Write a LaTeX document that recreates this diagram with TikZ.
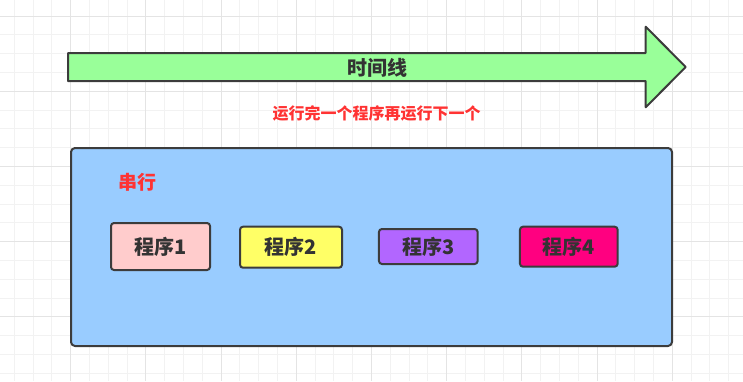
\documentclass[tikz,border=0pt]{standalone}
\usepackage{fontspec}
\setmainfont{Noto Sans CJK SC}
\usepackage{tikz}
\usepackage{xcolor}
\usetikzlibrary{positioning}
\definecolor{gridminor}{HTML}{F2F2F2}
\definecolor{gridmajor}{HTML}{E4E4E4}
\definecolor{edge}{HTML}{3C3C3C}
\definecolor{textdark}{HTML}{333333}
\definecolor{arrowfill}{HTML}{99FF99}
\definecolor{panelfill}{HTML}{99CCFF}
\definecolor{accentred}{HTML}{FF3333}
\definecolor{progA}{HTML}{FFCCCC}
\definecolor{progB}{HTML}{FFFF66}
\definecolor{progC}{HTML}{B266FF}
\definecolor{progD}{HTML}{FF0080}

\begin{document}
\begin{tikzpicture}[x=1pt, y=-1pt,
            outline/.style={draw=edge, line width=2pt, line join=round},
            prog/.style={outline, rounded corners=3pt, inner sep=0pt, text=textdark, font=\fontsize{20}{22}\selectfont\bfseries},
            lbl/.style={inner sep=0pt, font=\bfseries}]
            \useasboundingbox (0,0) rectangle (743,381);
            % grid
            \foreach \i in {0,...,39} \draw[gridminor, line width=0.8pt] ({14.1+18.8*\i},0) -- ({14.1+18.8*\i},381);
            \foreach \j in {0,...,19} \draw[gridminor, line width=0.8pt] (0,{16+18.8*\j}) -- (743,{16+18.8*\j});
            \foreach \i in {0,...,9} \draw[gridmajor, line width=0.8pt] ({70.5+75.2*\i},0) -- ({70.5+75.2*\i},381);
            \foreach \j in {0,...,4} \draw[gridmajor, line width=0.8pt] (0,{16+75.2*\j}) -- (743,{16+75.2*\j});
            % time arrow
            \draw[outline, fill=arrowfill] (68,53) -- (645.7,53) -- (645.7,26.7) -- (685.7,67)
                -- (645.7,107.3) -- (645.7,81) -- (68,81) -- cycle;
            \node[lbl, text=textdark, font=\fontsize{20}{22}\selectfont\bfseries] (timeline) at (377,67.5) {时间线};
            \node[lbl, text=accentred, font=\fontsize{16}{18}\selectfont\bfseries] (note) at (376.5,113) {运行完一个程序再运行下一个};
            % serial panel
            \node[outline, fill=panelfill, rounded corners=4pt, minimum width=601pt, minimum height=198pt, inner sep=0pt] (panel) at (371.5,247) {};
            \node[lbl, text=accentred, font=\fontsize{19}{21}\selectfont\bfseries] (serial) at (137.3,182.5) {串行};
            \node[prog, fill=progA, minimum width=99pt, minimum height=47pt] (p1) at (160.5,246.5) {程序1};
            \node[prog, fill=progB, minimum width=102pt, minimum height=41pt] (p2) at (291,247.2) {程序2};
            \node[prog, fill=progC, minimum width=98.7pt, minimum height=35pt] (p3) at (428.3,246.5) {程序3};
            \node[prog, fill=progD, minimum width=97.7pt, minimum height=40pt] (p4) at (568.8,246.7) {程序4};
        \end{tikzpicture}
\end{document}
